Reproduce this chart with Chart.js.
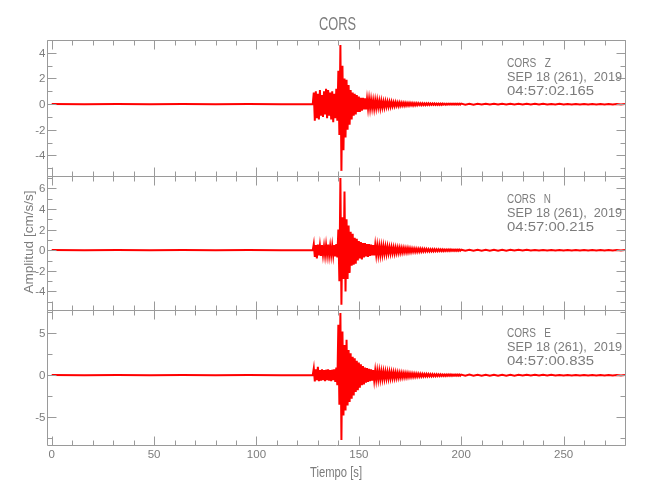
<!DOCTYPE html>
<html>
<head>
<meta charset="utf-8">
<title>CORS</title>
<script src="https://cdn.jsdelivr.net/npm/chart.js@4.4.0/dist/chart.umd.min.js"></script>
<style>
  html, body { margin: 0; padding: 0; background: #fff; }
  #wrap { position: relative; width: 650px; height: 500px; }
  #wrap canvas { position: absolute; left: 0; top: 0; }
</style>
</head>
<body>
<div id="wrap">
  <canvas id="c-z" width="650" height="500"></canvas>
  <canvas id="c-n" width="650" height="500"></canvas>
  <canvas id="c-e" width="650" height="500"></canvas>
</div>
<script>
/* =========================================================
   Sismograma CORS – 3 componentes (Z, N, E)
   ========================================================= */

/* ---- Muestreo (s) ---- */
const PRE_T0  = 0,     PRE_DT  = 16;    // ruido antes del evento
const EVT_T0  = 127.5, EVT_DT  = 0.5;   // evento
const TAIL_T0 = 200,   TAIL_DT = 2;     // coda final

/* ---- Ejes ---- */
const xTicks = [0, 50, 100, 150, 200, 250];
const zTicks = [-4, -2, 0, 2, 4];
const nTicks = [-4, -2, 0, 2, 4, 6];
const eTicks = [-5, 0, 5];

/* ---- Componente Z (cm/s/s) ---- */
const zPre = [0.01, -0.01, 0.01, -0.01, 0.01, -0.01, 0.01, -0.01];
const zEvent = [
  0,
  0.9, -1.3, 1.0, -1.1, 0.8, -1.2, 1.1, -0.9, 0.7, -1.0,
  1.0, -0.8, 1.2, -1.1, 1.1, -0.9, 0.9, -1.2, 1.0, -1.4,
  0.8, -1.1, 1.2, -1.3, 2.6, -2.4, 4.6, -5.2, 3.0, -3.6,
  2.0, -2.6, 1.9, -2.0, 1.5, -1.6, 1.1, -1.2, 0.9, -0.9,
  0.8, -0.8, 0.7, -0.6, 0.6, -0.6, 0.5, -0.5, 0.5, -0.4,
  0.45, -0.4, 0.4, -0.35, 0.4, -0.35, 0.35, -0.3, 0.3, -0.35,
  0.3, -0.3, 0.3, -0.25, 0.25, -0.3, 0.25, -0.25, 0.2, -0.25,
  0.22, -0.2, 0.2, -0.2, 0.18, -0.2, 0.18, -0.16, 0.15, -0.16,
  0.15, -0.14, 0.13, -0.15, 0.13, -0.12, 0.12, -0.12, 0.11, -0.12,
  0.1, -0.1, 0.1, -0.1, 0.1, -0.09, 0.09, -0.1, 0.08, -0.09,
  0.08, -0.08, 0.08, -0.07, 0.07, -0.08, 0.07, -0.07, 0.06, -0.07,
  0.06, -0.06, 0.06, -0.06, 0.06, -0.05, 0.05, -0.06, 0.05, -0.05,
  0.05, -0.05, 0.05, -0.05, 0.05, -0.05, 0.05, -0.04, 0.04, -0.05,
  0.04, -0.04, 0.04, -0.04, 0.04, -0.04, 0.04, -0.04, 0.04, -0.04,
  0.04, -0.04, 0.04, -0.04,
];
const zTail = [
  0.04, -0.04, 0.035, -0.04, 0.035, -0.03, 0.035, -0.03, 0.03, -0.035,
  0.03, -0.03, 0.03, -0.03, 0.025, -0.03, 0.03, -0.025, 0.025, -0.025,
  0.025, -0.025, 0.02, -0.025, 0.025, -0.02, 0.02, -0.02, 0.02, -0.02,
  0.02, -0.02, 0.02, -0.02, 0.02, -0.02, 0.02, -0.02, 0.02, -0.02,
  0.02,
];

/* ---- Componente N ---- */
const nPre = [0.01, -0.01, 0.01, -0.01, 0.01, -0.01, 0.01, -0.01];
const nEvent = [
  0,
  0.6, -0.65, 0.5, -0.8, 0.55, -0.5, 0.45, -0.55, 0.5, -0.45,
  0.4, -0.5, 0.5, -0.45, 0.55, -0.5, 0.4, -0.5, 0.45, -0.5,
  0.5, -0.6, 0.6, -0.7, 2.0, -3.0, 7.0, -5.3, 3.2, -2.8,
  5.7, -4.0, 3.0, -2.8, 2.4, -2.2, 1.8, -1.5, 1.6, -1.4,
  1.2, -1.3, 1.1, -1.0, 0.9, -0.8, 0.8, -0.9, 0.7, -0.7,
  0.7, -0.6, 0.6, -0.65, 0.6, -0.55, 0.55, -0.5, 0.5, -0.5,
  0.5, -0.45, 0.45, -0.45, 0.4, -0.45, 0.4, -0.4, 0.4, -0.35,
  0.35, -0.35, 0.35, -0.3, 0.3, -0.32, 0.3, -0.28, 0.28, -0.3,
  0.26, -0.26, 0.25, -0.25, 0.24, -0.24, 0.22, -0.22, 0.22, -0.2,
  0.2, -0.2, 0.2, -0.18, 0.18, -0.18, 0.17, -0.16, 0.16, -0.16,
  0.15, -0.15, 0.14, -0.14, 0.14, -0.13, 0.13, -0.13, 0.12, -0.12,
  0.12, -0.11, 0.11, -0.11, 0.1, -0.1, 0.1, -0.1, 0.1, -0.09,
  0.09, -0.09, 0.09, -0.08, 0.08, -0.08, 0.08, -0.08, 0.07, -0.08,
  0.07, -0.07, 0.07, -0.07, 0.07, -0.06, 0.06, -0.06, 0.06, -0.06,
  0.06, -0.06, 0.06, -0.05,
];
const nTail = [
  0.05, -0.05, 0.05, -0.045, 0.045, -0.045, 0.04, -0.045, 0.04, -0.04,
  0.04, -0.04, 0.04, -0.035, 0.035, -0.035, 0.035, -0.035, 0.03, -0.035,
  0.03, -0.03, 0.03, -0.03, 0.03, -0.03, 0.03, -0.025, 0.025, -0.03,
  0.025, -0.025, 0.025, -0.025, 0.025, -0.025, 0.025, -0.02, 0.02, -0.025,
  0.02,
];

/* ---- Componente E ---- */
const ePre = [0.01, -0.01, 0.01, -0.01, 0.01, -0.01, 0.01, -0.01];
const eEvent = [
  0,
  0.8, -0.75, 0.7, -0.6, 1.0, -0.7, 0.6, -0.65, 0.7, -0.6,
  0.6, -0.7, 0.65, -0.6, 0.7, -0.65, 0.6, -0.7, 0.65, -0.6,
  0.7, -0.8, 0.9, -1.2, 6.0, -3.5, 7.4, -7.7, 5.2, -4.8,
  3.6, -4.2, 4.2, -3.6, 3.0, -3.2, 2.6, -2.8, 2.2, -2.4,
  2.0, -2.0, 1.7, -1.8, 1.5, -1.5, 1.3, -1.2, 1.1, -1.1,
  0.9, -0.9, 0.85, -0.8, 0.75, -0.7, 0.7, -0.65, 0.6, -0.6,
  0.55, -0.55, 0.5, -0.5, 0.5, -0.48, 0.46, -0.45, 0.44, -0.44,
  0.42, -0.4, 0.4, -0.4, 0.38, -0.38, 0.36, -0.35, 0.34, -0.34,
  0.32, -0.32, 0.3, -0.3, 0.28, -0.28, 0.27, -0.26, 0.25, -0.25,
  0.24, -0.24, 0.23, -0.22, 0.21, -0.21, 0.2, -0.2, 0.19, -0.19,
  0.18, -0.18, 0.17, -0.17, 0.16, -0.16, 0.15, -0.15, 0.14, -0.14,
  0.14, -0.13, 0.13, -0.13, 0.12, -0.12, 0.12, -0.11, 0.11, -0.11,
  0.11, -0.1, 0.1, -0.1, 0.1, -0.09, 0.09, -0.09, 0.09, -0.09,
  0.09, -0.08, 0.08, -0.08, 0.08, -0.08, 0.08, -0.07, 0.07, -0.07,
  0.07, -0.07, 0.07, -0.07,
];
const eTail = [
  0.07, -0.07, 0.065, -0.065, 0.06, -0.06, 0.06, -0.055, 0.055, -0.055,
  0.05, -0.05, 0.05, -0.05, 0.045, -0.045, 0.045, -0.045, 0.04, -0.045,
  0.04, -0.04, 0.04, -0.04, 0.035, -0.04, 0.035, -0.035, 0.035, -0.035,
  0.03, -0.035, 0.03, -0.03, 0.03, -0.03, 0.03, -0.03, 0.03, -0.03,
  0.03,
];

/* ---- Estilo ---- */
const FONT       = '"Liberation Sans Narrow", "Liberation Sans", Arimo, sans-serif';
const TEXT_COLOR = '#7c7c7c';
const AXIS_COLOR = '#9a9a9a';
const TRACE      = '#ff0000';
const PLOT_LEFT  = 47, PLOT_RIGHT = 625;
const X_MIN = -2.3, X_MAX = 280, X_MINOR = 10;
const MAJOR_LEN = 9, MINOR_LEN = 5;

function buildTrace(pre, evt, tail) {
  const pts = [];
  pre.forEach((v, i)  => pts.push({ x: PRE_T0 + i * PRE_DT, y: v }));
  evt.forEach((v, i)  => pts.push({ x: EVT_T0 + i * EVT_DT, y: v }));
  tail.forEach((v, i) => pts.push({ x: TAIL_T0 + i * TAIL_DT, y: v }));
  return pts;
}

/* texto ajustado a un ancho (fuente vectorial tipo IDL) */
function drawText(ctx, text, x, y, size, width, align) {
  ctx.save();
  ctx.font = `${size}px ${FONT}`;
  ctx.fillStyle = TEXT_COLOR;
  ctx.textAlign = align || 'left';
  ctx.textBaseline = 'alphabetic';
  const w = ctx.measureText(text).width;
  ctx.translate(x, y);
  if (width) ctx.scale(width / w, 1);
  ctx.fillText(text, 0, 0);
  ctx.restore();
}

const panels = [
  { id: 'c-z', comp: 'Z', time: '04:57:02.165', top: 40,  bottom: 176, yMin: -5.6, yMax: 5.0,  ticks: zTicks, minor: 1,   data: buildTrace(zPre, zEvent, zTail) },
  { id: 'c-n', comp: 'N', time: '04:57:00.215', top: 176, bottom: 310, yMin: -5.8, yMax: 7.2,  ticks: nTicks, minor: 1,   data: buildTrace(nPre, nEvent, nTail) },
  { id: 'c-e', comp: 'E', time: '04:57:00.835', top: 310, bottom: 445, yMin: -8.3, yMax: 7.75, ticks: eTicks, minor: 2.5, data: buildTrace(ePre, eEvent, eTail), last: true },
];

/* ---- Marco, marcas y textos de un panel ---- */
function framePlugin(p) {
  return {
    id: 'frame-' + p.comp,
    afterDatasetsDraw(chart) {
      const { ctx, chartArea: a } = chart;
      const xs = chart.scales.x, ys = chart.scales.y;
      const L = Math.round(a.left) + 0.5, R = Math.round(a.right) + 0.5;
      const T = Math.round(a.top) + 0.5,  B = Math.round(a.bottom) + 0.5;

      ctx.save();
      ctx.strokeStyle = AXIS_COLOR;
      ctx.lineWidth = 1;
      ctx.beginPath();
      ctx.rect(L, T, R - L, B - T);

      for (let k = 0; k * X_MINOR <= X_MAX; k++) {
        const v = k * X_MINOR;
        const px = Math.round(xs.getPixelForValue(v)) + 0.5;
        const len = xTicks.includes(v) ? MAJOR_LEN : MINOR_LEN;
        ctx.moveTo(px, B); ctx.lineTo(px, B - len);
        ctx.moveTo(px, T); ctx.lineTo(px, T + len);
      }
      for (let k = Math.ceil(p.yMin / p.minor); k * p.minor <= p.yMax; k++) {
        const v = k * p.minor;
        const py = Math.round(ys.getPixelForValue(v)) + 0.5;
        const len = p.ticks.includes(v) ? MAJOR_LEN : MINOR_LEN;
        ctx.moveTo(L, py); ctx.lineTo(L + len, py);
        ctx.moveTo(R, py); ctx.lineTo(R - len, py);
      }
      ctx.stroke();
      ctx.restore();

      /* etiquetas Y */
      p.ticks.forEach(v => {
        drawText(ctx, String(v), a.left - 1.5, ys.getPixelForValue(v) + 4, 11.5, null, 'right');
      });

      /* anotación de la estación */
      drawText(ctx, 'CORS   ' + p.comp, 507, p.top + 26.7, 12.5, 44);
      drawText(ctx, 'SEP 18 (261),  2019', 507, p.top + 40.7, 12.5, 115);
      drawText(ctx, p.time, 507, p.top + 54.7, 12.5, 87);

      if (p.last) {
        xTicks.forEach(v => drawText(ctx, String(v), xs.getPixelForValue(v), 458, 11.5, null, 'center'));
        drawText(ctx, 'CORS', 337.5, 30, 18, 37, 'center');
        drawText(ctx, 'Tiempo [s]', 336, 476.5, 14, 52, 'center');
        ctx.save();
        ctx.translate(33, 242);
        ctx.rotate(-Math.PI / 2);
        drawText(ctx, 'Amplitud [cm/s/s]', 0, 0, 13, 103, 'center');
        ctx.restore();
      }
    },
  };
}

function makeChart(p) {
  return new Chart(document.getElementById(p.id), {
    type: 'line',
    data: {
      datasets: [{
        data: p.data,
        borderColor: TRACE,
        borderWidth: 2,
        borderJoinStyle: 'miter',
        pointRadius: 0,
        tension: 0,
        fill: false,
      }],
    },
    options: {
      responsive: false,
      animation: false,
      events: [],
      layout: { padding: { left: PLOT_LEFT, right: 650 - PLOT_RIGHT, top: p.top, bottom: 500 - p.bottom } },
      plugins: { legend: { display: false }, tooltip: { enabled: false } },
      scales: {
        x: { type: 'linear', display: false, min: X_MIN, max: X_MAX },
        y: { type: 'linear', display: false, min: p.yMin, max: p.yMax },
      },
    },
    plugins: [framePlugin(p)],
  });
}

panels.forEach(makeChart);
</script>
</body>
</html>
